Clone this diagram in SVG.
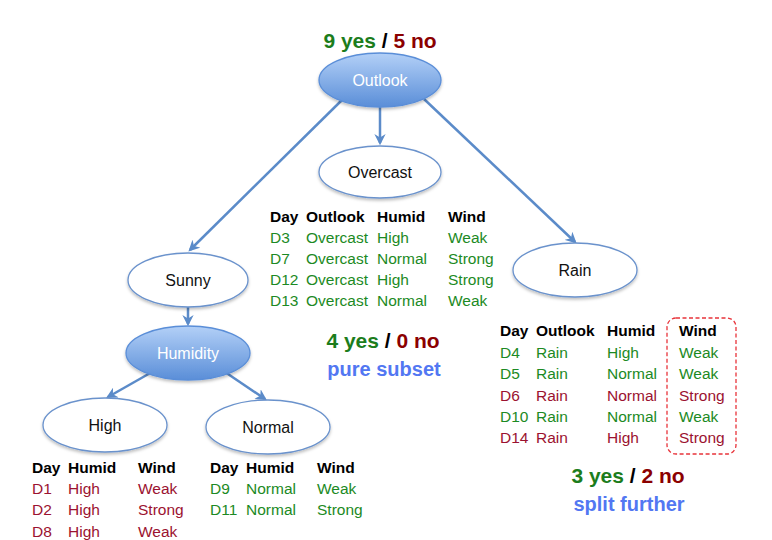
<svg xmlns="http://www.w3.org/2000/svg" width="772" height="540" viewBox="0 0 772 540">
<defs>
<linearGradient id="blue" x1="0" y1="0" x2="0" y2="1">
<stop offset="0" stop-color="#b3d0f7"/>
<stop offset="1" stop-color="#5a8ed8"/>
</linearGradient>
<filter id="sh" x="-20%" y="-20%" width="140%" height="160%">
<feDropShadow dx="0" dy="2" stdDeviation="1.5" flood-color="#000" flood-opacity="0.25"/>
</filter>
<marker id="ah" viewBox="0 0 10 10" refX="8" refY="5" markerWidth="4.5" markerHeight="4.5" orient="auto-start-reverse" markerUnits="strokeWidth">
<path d="M0,0 L10,5 L0,10 L3,5 z" fill="#5b8bc9"/>
</marker>
<style>
text{font-family:"Liberation Sans",Arial,sans-serif;}
.t{font-size:15.5px;}
.h{font-size:15.5px;font-weight:bold;fill:#000;}
.g{fill:#1c8a24;}
.r{fill:#9b1230;}
.lbl{font-size:16px;fill:#111;text-anchor:middle;}
.wl{font-size:16px;fill:#fff;text-anchor:middle;}
.big{font-size:21px;font-weight:bold;text-anchor:middle;}
.bl{font-size:20px;font-weight:bold;fill:#5277f2;text-anchor:middle;}
.gy{fill:#1c7d1c;}
.rn{fill:#8b0000;}
.wn{fill:#ffffff;stroke:#6a92cc;stroke-width:1.3;}
.bn{fill:url(#blue);stroke:#5a8ed8;stroke-width:1.3;}
.c{stroke:#5b8bc9;stroke-width:2.5;fill:none;marker-end:url(#ah);}
</style>
</defs>

<g id="connectors">
<line class="c" x1="380" y1="107" x2="380" y2="143"/>
<line class="c" x1="342" y1="100" x2="190" y2="250"/>
<line class="c" x1="424" y1="99" x2="575" y2="242"/>
<line class="c" x1="188" y1="307" x2="188" y2="324"/>
<line class="c" x1="152" y1="372" x2="108" y2="397"/>
<line class="c" x1="225" y1="372" x2="265" y2="399"/>
</g>

<g id="outlook">
<text class="big" x="380" y="48"><tspan class="gy">9 yes</tspan><tspan fill="#000"> / </tspan><tspan class="rn">5 no</tspan></text>
<ellipse class="bn" cx="380" cy="80" rx="61" ry="27" filter="url(#sh)"/>
<text class="wl" x="380" y="86">Outlook</text>
</g>

<g id="overcast">
<ellipse class="wn" cx="380" cy="172" rx="61" ry="26" filter="url(#sh)"/>
<text class="lbl" x="380" y="178">Overcast</text>
</g>

<g id="sunny">
<ellipse class="wn" cx="188" cy="280" rx="60" ry="27" filter="url(#sh)"/>
<text class="lbl" x="188" y="286">Sunny</text>
</g>

<g id="rain">
<ellipse class="wn" cx="575" cy="270" rx="62" ry="27" filter="url(#sh)"/>
<text class="lbl" x="575" y="276">Rain</text>
</g>

<g id="humidity">
<ellipse class="bn" cx="188" cy="353" rx="62" ry="27" filter="url(#sh)"/>
<text class="wl" x="188" y="359">Humidity</text>
</g>

<g id="high">
<ellipse class="wn" cx="105" cy="425" rx="62" ry="27" filter="url(#sh)"/>
<text class="lbl" x="105" y="431">High</text>
</g>

<g id="normal">
<ellipse class="wn" cx="268" cy="427" rx="62" ry="27" filter="url(#sh)"/>
<text class="lbl" x="268" y="433">Normal</text>
</g>

<g id="overcast-table">
<text class="h" x="270" y="222">Day</text><text class="h" x="306" y="222">Outlook</text><text class="h" x="377" y="222">Humid</text><text class="h" x="448" y="222">Wind</text>
<text class="t g" x="270" y="243">D3</text><text class="t g" x="306" y="243">Overcast</text><text class="t g" x="377" y="243">High</text><text class="t g" x="448" y="243">Weak</text>
<text class="t g" x="270" y="264">D7</text><text class="t g" x="306" y="264">Overcast</text><text class="t g" x="377" y="264">Normal</text><text class="t g" x="448" y="264">Strong</text>
<text class="t g" x="270" y="285">D12</text><text class="t g" x="306" y="285">Overcast</text><text class="t g" x="377" y="285">High</text><text class="t g" x="448" y="285">Strong</text>
<text class="t g" x="270" y="306">D13</text><text class="t g" x="306" y="306">Overcast</text><text class="t g" x="377" y="306">Normal</text><text class="t g" x="448" y="306">Weak</text>
<text class="big" x="383" y="348"><tspan class="gy">4 yes</tspan><tspan fill="#000"> / </tspan><tspan class="rn">0 no</tspan></text>
<text class="bl" x="384" y="376">pure subset</text>
</g>

<g id="rain-table">
<rect x="667" y="318" width="69" height="136" rx="9" fill="none" stroke="#e8333a" stroke-width="1.3" stroke-dasharray="4,2.5"/>
<text class="h" x="500" y="336">Day</text><text class="h" x="536" y="336">Outlook</text><text class="h" x="607" y="336">Humid</text><text class="h" x="679" y="336">Wind</text>
<text class="t g" x="500" y="358">D4</text><text class="t g" x="536" y="358">Rain</text><text class="t g" x="607" y="358">High</text><text class="t g" x="679" y="358">Weak</text>
<text class="t g" x="500" y="379">D5</text><text class="t g" x="536" y="379">Rain</text><text class="t g" x="607" y="379">Normal</text><text class="t g" x="679" y="379">Weak</text>
<text class="t r" x="500" y="401">D6</text><text class="t r" x="536" y="401">Rain</text><text class="t r" x="607" y="401">Normal</text><text class="t r" x="679" y="401">Strong</text>
<text class="t g" x="500" y="422">D10</text><text class="t g" x="536" y="422">Rain</text><text class="t g" x="607" y="422">Normal</text><text class="t g" x="679" y="422">Weak</text>
<text class="t r" x="500" y="443">D14</text><text class="t r" x="536" y="443">Rain</text><text class="t r" x="607" y="443">High</text><text class="t r" x="679" y="443">Strong</text>
<text class="big" x="628" y="483"><tspan class="gy">3 yes</tspan><tspan fill="#000"> / </tspan><tspan class="rn">2 no</tspan></text>
<text class="bl" x="629" y="511">split further</text>
</g>

<g id="high-table">
<text class="h" x="32" y="473">Day</text><text class="h" x="68" y="473">Humid</text><text class="h" x="138" y="473">Wind</text>
<text class="t r" x="32" y="494">D1</text><text class="t r" x="68" y="494">High</text><text class="t r" x="138" y="494">Weak</text>
<text class="t r" x="32" y="515">D2</text><text class="t r" x="68" y="515">High</text><text class="t r" x="138" y="515">Strong</text>
<text class="t r" x="32" y="537">D8</text><text class="t r" x="68" y="537">High</text><text class="t r" x="138" y="537">Weak</text>
</g>

<g id="normal-table">
<text class="h" x="210" y="473">Day</text><text class="h" x="246" y="473">Humid</text><text class="h" x="317" y="473">Wind</text>
<text class="t g" x="210" y="494">D9</text><text class="t g" x="246" y="494">Normal</text><text class="t g" x="317" y="494">Weak</text>
<text class="t g" x="210" y="515">D11</text><text class="t g" x="246" y="515">Normal</text><text class="t g" x="317" y="515">Strong</text>
</g>
</svg>
